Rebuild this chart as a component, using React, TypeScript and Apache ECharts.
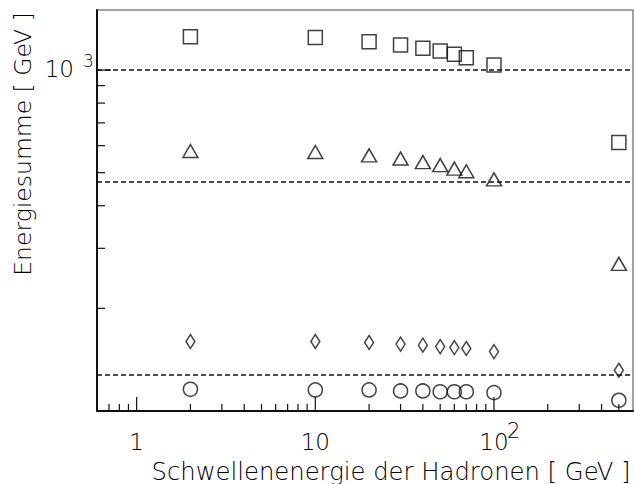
import React, { useEffect, useRef } from "react";
import * as echarts from "echarts";

// Threshold energies of the hadrons [GeV]
const thresholds = [2, 10, 20, 30, 40, 50, 60, 70, 100, 500];
// Energy sums [GeV] per marker type
const squareValues = [1253, 1245, 1211, 1184, 1158, 1137, 1112, 1087, 1034, 613];
const triangleValues = [579, 575, 562, 550, 537, 526, 514, 505, 478, 270];
const diamondValues = [159.9, 159.9, 158.8, 157.1, 156.0, 154.5, 153.5, 152.5, 149.4, 131.7];
const circleValues = [115.8, 115.3, 115.3, 114.5, 114.5, 113.9, 113.9, 113.9, 113.2, 107.5];
// Dashed reference levels [GeV]
const referenceLevels = [1000, 469, 128];
// Axis ticks
const xMajorTicks = [1, 10, 100];
const xMinorTicks = [0.7, 0.8, 0.9, 2, 3, 4, 5, 6, 7, 8, 9, 20, 30, 40, 50, 60, 70, 80, 90, 200, 300, 400, 500];
const yMajorTicks = [1000];
const yMinorTicks = [200, 300, 400, 500, 600, 700, 800, 900];
// Tick labels: base text and exponent
const xLabelValues = [1, 10, 100];
const xLabelBases = ["1", "10", "10"];
const xLabelExponents = ["", "", "2"];
const yLabelValues = [1000];
const yLabelBases = ["10"];
const yLabelExponents = ["3"];

const X_MIN = 0.6;
const X_MAX = 600;
const Y_MIN = 100;
const Y_MAX = 1500;

const FONT = "'DejaVu Sans', sans-serif";
const WEIGHT = 200;
const INK = "#000";
const LABEL_SIZE = 23;

export default function App() {
  const ref = useRef<HTMLDivElement>(null);
  useEffect(() => {
    document.body.style.margin = "0";
    const chart = echarts.init(ref.current!, null, { renderer: "svg" });
    const pts = (vals: number[]) => thresholds.map((x, i) => [x, vals[i]]);
    const hollow = { color: "rgba(0,0,0,0)", borderColor: "#111", borderWidth: 1.5 };

    const tickData: number[][] = [
      ...xMajorTicks.map((v) => [v, Y_MIN, 0, 14]),
      ...xMinorTicks.map((v) => [v, Y_MIN, 0, 7]),
      ...yMajorTicks.map((v) => [X_MIN, v, 1, 14]),
      ...yMinorTicks.map((v) => [X_MIN, v, 1, 8]),
    ];
    // [x, y, axisKind, labelIndex]
    const labelData: number[][] = [
      ...xLabelValues.map((v, i) => [v, Y_MIN, 0, i]),
      ...yLabelValues.map((v, i) => [X_MIN, v, 1, i]),
    ];
    const textStyle = (text: string, align: string) => ({
      text,
      fontSize: LABEL_SIZE,
      fontFamily: FONT,
      fontWeight: WEIGHT,
      fill: INK,
      align,
      verticalAlign: "middle",
    });

    chart.setOption({
      animation: false,
      backgroundColor: "#fff",
      grid: {
        left: 97,
        top: 10,
        right: 1,
        bottom: 73,
        show: true,
        borderColor: "#444",
        borderWidth: 1,
      },
      xAxis: {
        type: "log",
        logBase: 10,
        min: X_MIN,
        max: X_MAX,
        axisLine: { onZero: false, lineStyle: { color: "#111", width: 2 } },
        axisTick: { show: false },
        splitLine: { show: false },
        axisLabel: { show: false },
      },
      yAxis: {
        type: "log",
        logBase: 10,
        min: Y_MIN,
        max: Y_MAX,
        axisLine: { onZero: false, lineStyle: { color: "#111", width: 2 } },
        axisTick: { show: false },
        splitLine: { show: false },
        axisLabel: { show: false },
      },
      graphic: [
        {
          type: "text",
          x: 391,
          y: 471,
          style: {
            text: "Schwellenenergie der Hadronen [ GeV ]",
            fontSize: 24.3,
            fontFamily: FONT,
            fontWeight: WEIGHT,
            fill: INK,
            align: "center",
            verticalAlign: "middle",
          },
        },
        {
          type: "text",
          x: 23,
          y: 144,
          rotation: Math.PI / 2,
          style: {
            text: "Energiesumme [ GeV ]",
            fontSize: 23.5,
            fontFamily: FONT,
            fontWeight: WEIGHT,
            fill: INK,
            align: "center",
            verticalAlign: "middle",
          },
        },
      ],
      series: [
        {
          type: "custom",
          silent: true,
          clip: false,
          encode: { x: 0, y: 1 },
          data: tickData,
          renderItem: (params: any, api: any) => {
            const p = api.coord([api.value(0), api.value(1)]);
            const kind = api.value(2);
            const len = api.value(3);
            const shape =
              kind === 0
                ? { x1: p[0], y1: p[1], x2: p[0], y2: p[1] - len }
                : { x1: p[0], y1: p[1], x2: p[0] + len, y2: p[1] };
            return { type: "line", shape, style: { stroke: "#111", lineWidth: 1.2 } };
          },
        },
        {
          type: "custom",
          silent: true,
          clip: false,
          encode: { x: 0, y: 1 },
          data: labelData,
          renderItem: (params: any, api: any) => {
            const p = api.coord([api.value(0), api.value(1)]);
            const kind = api.value(2);
            const idx = api.value(3);
            if (kind === 0) {
              const base = xLabelBases[idx];
              const exp = xLabelExponents[idx];
              const children: any[] = [
                { type: "text", x: p[0], y: p[1] + 31, style: textStyle(base, "center") },
              ];
              if (exp) {
                children.push({
                  type: "text",
                  x: p[0] + 13,
                  y: p[1] + 20,
                  style: { ...textStyle(exp, "left"), fontSize: 21 },
                });
              }
              return { type: "group", children };
            }
            const base = yLabelBases[idx];
            const exp = yLabelExponents[idx];
            return {
              type: "group",
              children: [
                { type: "text", x: p[0] - 23, y: p[1] - 1, style: textStyle(base, "right") },
                {
                  type: "text",
                  x: p[0] - 14,
                  y: p[1] - 9,
                  style: { ...textStyle(exp, "left"), fontSize: 17 },
                },
              ],
            };
          },
        },
        {
          type: "scatter",
          name: "squares",
          data: pts(squareValues),
          symbol: "rect",
          symbolSize: 14,
          itemStyle: hollow,
          markLine: {
            silent: true,
            symbol: "none",
            label: { show: false },
            lineStyle: { color: "#111", type: [5, 3], width: 1.5 },
            data: referenceLevels.map((v) => ({ yAxis: v })),
          },
        },
        {
          type: "scatter",
          name: "triangles",
          data: pts(triangleValues),
          symbol: "triangle",
          symbolSize: [15, 13],
          itemStyle: hollow,
        },
        {
          type: "scatter",
          name: "diamonds",
          data: pts(diamondValues),
          symbol: "diamond",
          symbolSize: [9, 14],
          itemStyle: hollow,
        },
        {
          type: "scatter",
          name: "circles",
          data: pts(circleValues),
          symbol: "circle",
          symbolSize: 14,
          itemStyle: hollow,
        },
      ],
    });
    return () => chart.dispose();
  }, []);
  return <div ref={ref} style={{ width: 634, height: 484 }} />;
}
